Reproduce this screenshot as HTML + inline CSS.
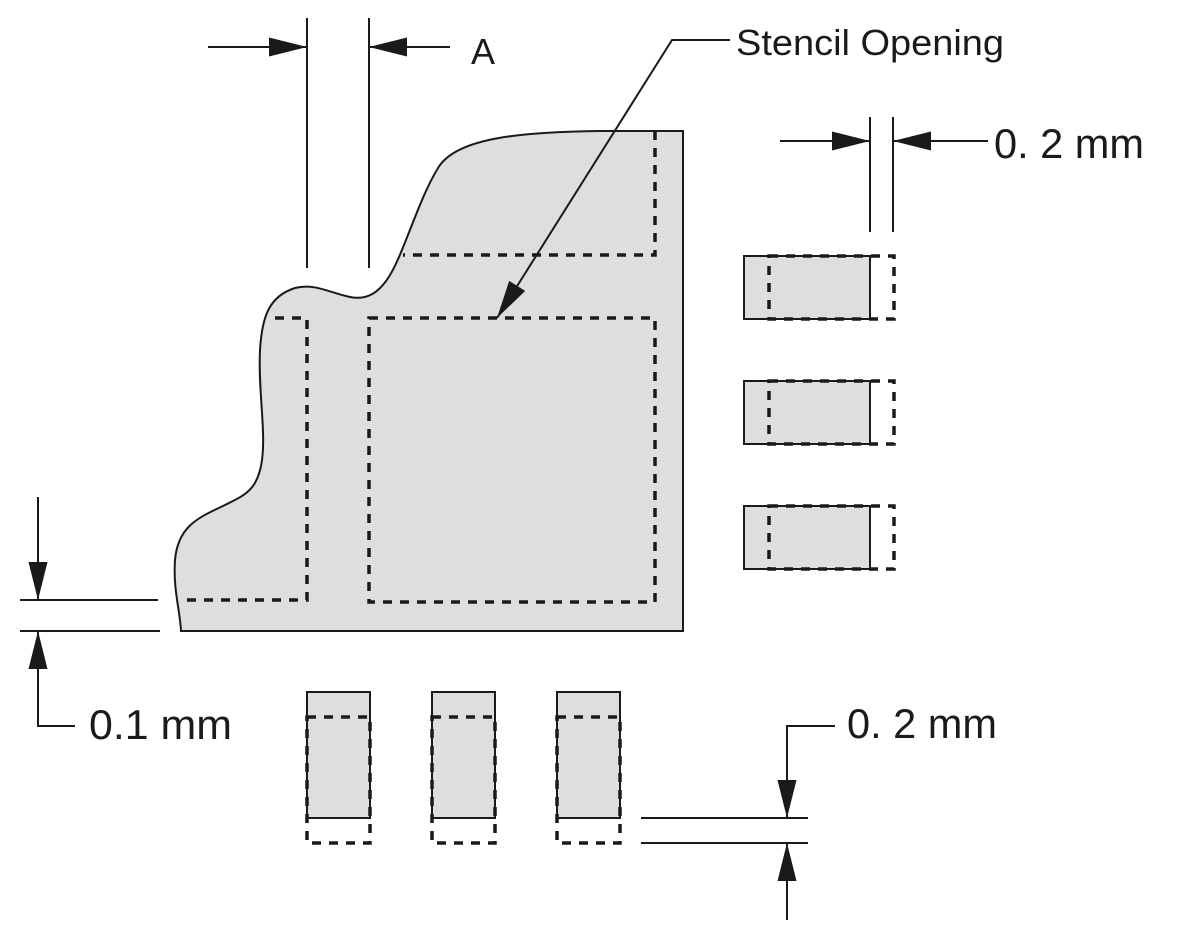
<!DOCTYPE html>
<html><head><style>html,body{margin:0;padding:0;background:#fff}svg{display:block}</style></head>
<body>
<svg width="1203" height="938" viewBox="0 0 1203 938" xmlns="http://www.w3.org/2000/svg" font-family="Liberation Sans, Arial, sans-serif">
<defs>
<marker id="ah" viewBox="0 0 20 10" refX="20" refY="5" markerWidth="38" markerHeight="19" markerUnits="userSpaceOnUse" orient="auto">
<path d="M0,0 L20,5 L0,10 z" fill="#1a1a1a"/></marker>
</defs>
<g stroke="#1a1a1a" fill="none" stroke-width="2">
<path d="M181,631 L683,631 L683,131 L600,131 C520,132 460,138 440,165 C420,195 405,250 390,275 C378,295 365,300 350,297 C330,293 315,283 295,288 C270,296 262,315 260,350 C258,390 266,430 262,460 C258,490 245,495 225,505 C200,517 178,525 175,560 C173,590 180,610 181,631 Z" fill="#dedede"/>
</g>
<g stroke="#1a1a1a" fill="none" stroke-width="3.5" stroke-dasharray="9 8">
<path d="M655,131 L655,255 L403,255"/>
<path d="M275,318 L307,318 L307,600 L180,600"/>
<rect x="369" y="318" width="286" height="284"/>
</g>
<g stroke="#1a1a1a" stroke-width="2" fill="none">
<line x1="307" y1="18" x2="307" y2="268"/>
<line x1="369" y1="18" x2="369" y2="268"/>
<line x1="208" y1="47" x2="307" y2="47" marker-end="url(#ah)"/>
<line x1="450" y1="47" x2="369" y2="47" marker-end="url(#ah)"/>
<polyline points="730,40 672,40 497,318" marker-end="url(#ah)"/>
<line x1="870" y1="117" x2="870" y2="232"/>
<line x1="893" y1="117" x2="893" y2="232"/>
<line x1="780" y1="141" x2="870" y2="141" marker-end="url(#ah)"/>
<line x1="988" y1="141" x2="893" y2="141" marker-end="url(#ah)"/>
<line x1="20" y1="600" x2="158" y2="600"/>
<line x1="20" y1="631" x2="160" y2="631"/>
<line x1="38" y1="497" x2="38" y2="600" marker-end="url(#ah)"/>
<polyline points="75,726 38,726 38,631" marker-end="url(#ah)"/>
<line x1="641" y1="818" x2="808" y2="818"/>
<line x1="641" y1="843" x2="808" y2="843"/>
<polyline points="835,726 787,726 787,818" marker-end="url(#ah)"/>
<line x1="787" y1="920" x2="787" y2="843" marker-end="url(#ah)"/>
</g>
<g>
<rect x="744" y="256" width="126" height="63" fill="#dedede" stroke="#1a1a1a" stroke-width="2"/>
<rect x="769" y="256" width="125" height="63" fill="none" stroke="#1a1a1a" stroke-width="3.5" stroke-dasharray="9 8"/>
<rect x="744" y="381" width="126" height="63" fill="#dedede" stroke="#1a1a1a" stroke-width="2"/>
<rect x="769" y="381" width="125" height="63" fill="none" stroke="#1a1a1a" stroke-width="3.5" stroke-dasharray="9 8"/>
<rect x="744" y="506" width="126" height="63" fill="#dedede" stroke="#1a1a1a" stroke-width="2"/>
<rect x="769" y="506" width="125" height="63" fill="none" stroke="#1a1a1a" stroke-width="3.5" stroke-dasharray="9 8"/>
</g>
<g>
<rect x="307" y="692" width="63" height="126" fill="#dedede" stroke="#1a1a1a" stroke-width="2"/>
<rect x="307" y="717" width="63" height="126" fill="none" stroke="#1a1a1a" stroke-width="3.5" stroke-dasharray="9 8"/>
<rect x="432" y="692" width="63" height="126" fill="#dedede" stroke="#1a1a1a" stroke-width="2"/>
<rect x="432" y="717" width="63" height="126" fill="none" stroke="#1a1a1a" stroke-width="3.5" stroke-dasharray="9 8"/>
<rect x="557" y="692" width="63" height="126" fill="#dedede" stroke="#1a1a1a" stroke-width="2"/>
<rect x="557" y="717" width="63" height="126" fill="none" stroke="#1a1a1a" stroke-width="3.5" stroke-dasharray="9 8"/>
</g>
<g fill="#1a1a1a">
<text x="471" y="64" font-size="36">A</text>
<text x="736" y="55" font-size="36" textLength="268" lengthAdjust="spacingAndGlyphs">Stencil Opening</text>
<text x="994" y="158" font-size="42" textLength="150" lengthAdjust="spacingAndGlyphs">0. 2 mm</text>
<text x="89" y="739" font-size="42" textLength="143" lengthAdjust="spacingAndGlyphs">0.1 mm</text>
<text x="847" y="738" font-size="42" textLength="150" lengthAdjust="spacingAndGlyphs">0. 2 mm</text>
</g>
</svg>
</body></html>
